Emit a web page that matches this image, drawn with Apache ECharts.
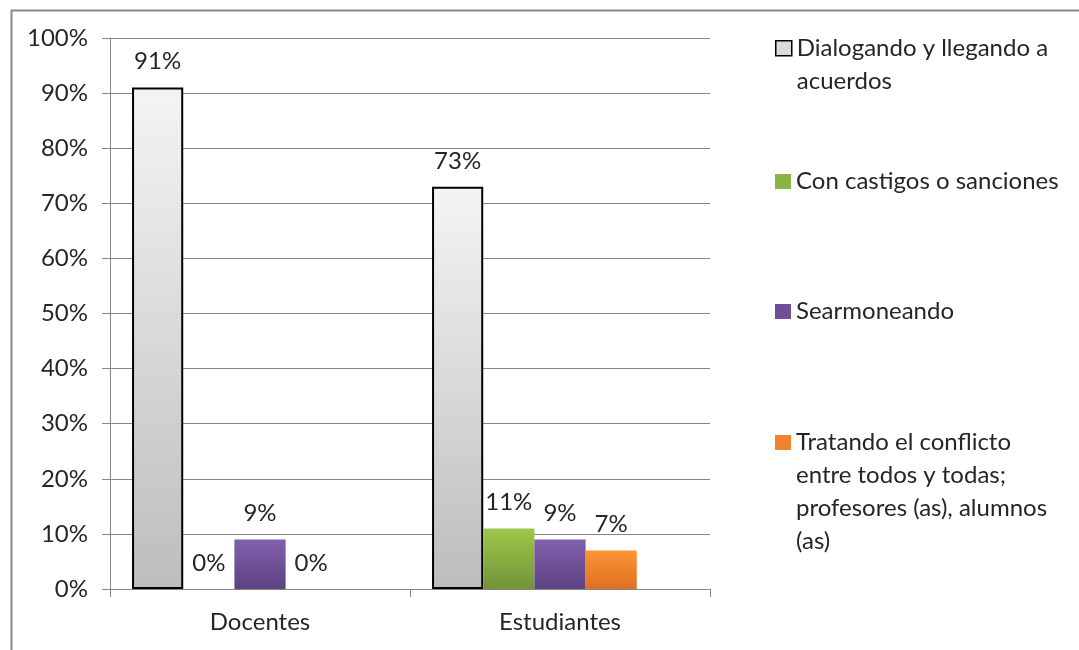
<!DOCTYPE html>
<html>
<head>
<meta charset="utf-8">
<script src="https://cdn.jsdelivr.net/npm/echarts@6/dist/echarts.min.js"></script>
<style>
html,body{margin:0;padding:0;background:#fff;}
#chart{width:1079px;height:650px;}
</style>
</head>
<body>
<div id="chart"></div>
<script>
const categories = ['Docentes', 'Estudiantes'];
const seriesNames = [
  'Dialogando y llegando a acuerdos',
  'Con castigos o sanciones',
  'Searmoneando',
  'Tratando el conflicto entre todos y todas; profesores (as), alumnos (as)'
];
const legendLabels = [
  'Dialogando y llegando a\nacuerdos',
  'Con castigos o sanciones',
  'Searmoneando',
  'Tratando el conflicto\nentre todos y todas;\nprofesores (as), alumnos\n(as)'
];
const dialogando = [91, 73];
const castigos = [0, 11];
const searmoneando = [9, 9];
const tratando = [0, 7];
const spacer = [null, null];

const FONT = 'Lato, "Open Sans", sans-serif';
const TXT = '#262626';
const GRID = '#868686';
const FS = 24;

function grad(top, bottom) {
  return {type: 'linear', x: 0, y: 0, x2: 0, y2: 1,
    colorStops: [{offset: 0, color: top}, {offset: 1, color: bottom}]};
}
const styles = [
  {color: grad('#f4f4f4', '#bdbdbd'), borderColor: '#000', borderWidth: 2},
  {color: grad('#9fc64b', '#739338'), borderWidth: 0},
  {color: grad('#8160ab', '#5d4282'), borderWidth: 0},
  {color: grad('#fd9534', '#dc7023'), borderWidth: 0}
];
const legendIconColors = ['#dcdcdc', '#8ab544', '#6e4f97', '#f0842d'];
const legendTops = [31, 165, 295, 426];
const LH = 33;

function legendFor(i) {
  const lines = legendLabels[i].split('\n').length;
  const h = lines * LH;
  const iconTop = LH / 2 - 7.5;
  return {
    orient: 'vertical',
    left: 775,
    top: legendTops[i],
    padding: 0,
    itemWidth: 16,
    itemHeight: h,
    selectedMode: false,
    formatter: function () { return legendLabels[i]; },
    textStyle: {fontFamily: FONT, fontSize: FS, color: TXT, lineHeight: LH},
    data: [{
      name: seriesNames[i],
      icon: 'path://M0,0L0.01,0M0,' + iconTop + 'h16v15h-16zM0,' + h + 'L0.01,' + h,
      itemStyle: {
        color: legendIconColors[i],
        borderColor: i === 0 ? '#000' : legendIconColors[i],
        borderWidth: i === 0 ? 1.5 : 0
      }
    }]
  };
}

const values = [dialogando, castigos, searmoneando, tratando];
const series = values.map(function (v, i) {
  return {
    name: seriesNames[i],
    type: 'bar',
    data: v,
    barGap: 0,
    barCategoryGap: '14.7%',
    itemStyle: styles[i],
    label: {
      show: true, position: 'top', distance: 14,
      formatter: '{c}%', fontFamily: FONT, fontSize: FS, color: TXT
    },
    emphasis: {disabled: true}
  };
});
series.push({
  name: 'spacer', type: 'bar', data: spacer, barGap: 0, barCategoryGap: '14.7%',
  silent: true, label: {show: false}, itemStyle: {color: 'transparent'}
});

const chart = echarts.init(document.getElementById('chart'));
chart.setOption({
  animation: false,
  backgroundColor: '#fff',
  graphic: [{
    type: 'rect', left: 9, top: 8,
    shape: {width: 1100, height: 700},
    style: {fill: 'none', stroke: '#8a8a8a', lineWidth: 2}
  }],
  legend: [0, 1, 2, 3].map(legendFor),
  grid: {left: 110, right: 369, top: 38, bottom: 61, containLabel: false},
  xAxis: {
    type: 'category',
    data: categories,
    axisLine: {show: true, lineStyle: {color: GRID, width: 1}},
    axisTick: {show: true, length: 8, alignWithLabel: false, lineStyle: {color: GRID}},
    axisLabel: {fontFamily: FONT, fontSize: FS, color: TXT, margin: 21},
    splitLine: {show: false}
  },
  yAxis: {
    type: 'value',
    min: 0, max: 100, interval: 10,
    axisLine: {show: true, lineStyle: {color: GRID, width: 1}},
    axisTick: {show: true, length: 8, lineStyle: {color: GRID}},
    axisLabel: {fontFamily: FONT, fontSize: FS, color: TXT, margin: 22, formatter: '{value}%'},
    splitLine: {show: true, lineStyle: {color: GRID, width: 1}}
  },
  series: series
});
</script>
</body>
</html>
